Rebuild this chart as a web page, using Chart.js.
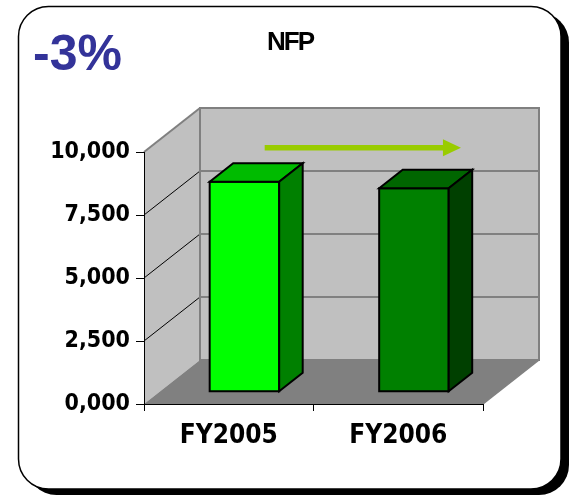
<!DOCTYPE html>
<html>
<head>
<meta charset="utf-8">
<script src="https://cdn.jsdelivr.net/npm/chart.js@4"></script>
<style>
html, body { margin: 0; padding: 0; background: #fff; }
</style>
</head>
<body>
<canvas id="chart" width="573" height="497"></canvas>
<script>
/* NFP 3D column chart */

var categories = ['FY2005', 'FY2006'];
var nfpValues = [8330, 8070];
var yTickValues = [0, 2500, 5000, 7500, 10000];
var yTickLabels = ['0,000', '2,500', '5,000', '7,500', '10,000'];
var chartTitle = 'NFP';
var changeLabel = '-3%';

// bar face colours (front / top / side)
var frontColors = ['#00ff00', '#008000'];
var topColors = ['#00bb00', '#006600'];
var sideColors = ['#008000', '#004000'];

var FONT = "'DejaVu Sans Condensed', 'DejaVu Sans', sans-serif";
var DEPTH_X = 56, DEPTH_Y = -44;     // full floor depth
var BAR_FRONT = 0.28, BAR_BACK = 0.70; // bar position inside the depth

function roundRect(ctx, x, y, w, h, r) {
    ctx.beginPath();
    ctx.moveTo(x + r, y);
    ctx.arcTo(x + w, y, x + w, y + h, r);
    ctx.arcTo(x + w, y + h, x, y + h, r);
    ctx.arcTo(x, y + h, x, y, r);
    ctx.arcTo(x, y, x + w, y, r);
    ctx.closePath();
}

function poly(ctx, pts) {
    ctx.beginPath();
    ctx.moveTo(pts[0][0], pts[0][1]);
    for (var i = 1; i < pts.length; i++) ctx.lineTo(pts[i][0], pts[i][1]);
    ctx.closePath();
}

var frame3d = {
    id: 'frame3d',
    beforeDraw: function(chart) {
        var ctx = chart.ctx;
        var a = chart.chartArea;
        var ys = chart.scales.y;
        var L = a.left, R = a.right, T = a.top, B = a.bottom;
        var dx = DEPTH_X, dy = DEPTH_Y;

        ctx.save();
        ctx.fillStyle = '#fff';
        ctx.fillRect(0, 0, chart.width, chart.height);

        // rounded frame with hard shadow
        roundRect(ctx, 26.5, 12.5, 542.5, 482.5, 30);
        ctx.fillStyle = '#000';
        ctx.fill();
        roundRect(ctx, 18.5, 6.5, 542.5, 482.5, 30);
        ctx.fillStyle = '#fff';
        ctx.fill();
        ctx.lineWidth = 1.5;
        ctx.strokeStyle = '#000';
        ctx.stroke();

        // walls and floor
        ctx.fillStyle = '#c0c0c0';
        poly(ctx, [[L, B], [L, T], [L + dx, T + dy], [L + dx, B + dy]]);
        ctx.fill();
        ctx.fillRect(L + dx, T + dy, R - L, B - T);
        ctx.fillStyle = '#808080';
        poly(ctx, [[L, B], [L + dx, B + dy], [R + dx, B + dy], [R, B]]);
        ctx.fill();

        // gridlines on back wall and side wall
        yTickValues.forEach(function(v) {
            if (v === 0) return;
            var y = ys.getPixelForValue(v);
            ctx.strokeStyle = '#808080';
            ctx.lineWidth = 2;
            ctx.beginPath();
            ctx.moveTo(L + dx, y + dy);
            ctx.lineTo(R + dx, y + dy);
            ctx.stroke();
            var top = v === yTickValues[yTickValues.length - 1];
            ctx.strokeStyle = top ? '#808080' : '#000';
            ctx.lineWidth = top ? 2 : 1;
            ctx.beginPath();
            ctx.moveTo(L, y);
            ctx.lineTo(L + dx, y + dy);
            ctx.stroke();
        });

        ctx.strokeStyle = '#808080';
        ctx.lineWidth = 2;
        ctx.strokeRect(L + dx, T + dy, R - L, B - T);
        ctx.lineWidth = 1.5;
        ctx.beginPath();
        ctx.moveTo(R, B);
        ctx.lineTo(R + dx, B + dy);
        ctx.stroke();
        ctx.restore();
    },
    afterDatasetsDraw: function(chart) {
        var ctx = chart.ctx;
        var meta = chart.getDatasetMeta(0);
        var f0x = BAR_FRONT * DEPTH_X, f0y = BAR_FRONT * DEPTH_Y;
        var bdx = (BAR_BACK - BAR_FRONT) * DEPTH_X, bdy = (BAR_BACK - BAR_FRONT) * DEPTH_Y;

        ctx.save();
        ctx.lineWidth = 2;
        ctx.strokeStyle = '#000';
        ctx.lineJoin = 'miter';
        meta.data.forEach(function(el, i) {
            var p = el.getProps(['x', 'y', 'base', 'width'], true);
            var x0 = p.x - p.width / 2 + f0x, x1 = p.x + p.width / 2 + f0x;
            var y0 = p.y + f0y, y1 = p.base + f0y;

            poly(ctx, [[x0, y0], [x1, y0], [x1, y1], [x0, y1]]);
            ctx.fillStyle = frontColors[i];
            ctx.fill(); ctx.stroke();

            poly(ctx, [[x0, y0], [x0 + bdx, y0 + bdy], [x1 + bdx, y0 + bdy], [x1, y0]]);
            ctx.fillStyle = topColors[i];
            ctx.fill(); ctx.stroke();

            poly(ctx, [[x1, y0], [x1 + bdx, y0 + bdy], [x1 + bdx, y1 + bdy], [x1, y1]]);
            ctx.fillStyle = sideColors[i];
            ctx.fill(); ctx.stroke();
        });
        ctx.restore();
    },
    afterDraw: function(chart) {
        var ctx = chart.ctx;
        var a = chart.chartArea;
        var w = a.right - a.left;

        // trend arrow on the back wall
        var ax0 = a.left + 0.356 * w, ax1 = a.left + 0.935 * w, ay = a.top - 4.3;
        ctx.save();
        ctx.strokeStyle = '#99cc00';
        ctx.fillStyle = '#99cc00';
        ctx.lineWidth = 5.5;
        ctx.beginPath();
        ctx.moveTo(ax0, ay);
        ctx.lineTo(ax1 - 16, ay);
        ctx.stroke();
        poly(ctx, [[ax1 - 18, ay - 8.5], [ax1, ay], [ax1 - 18, ay + 8.5]]);
        ctx.fill();

        // title and change label
        ctx.fillStyle = '#000';
        ctx.textBaseline = 'alphabetic';
        ctx.font = "bold 26px 'Liberation Sans', Arial, sans-serif";
        if ('letterSpacing' in ctx) ctx.letterSpacing = '-2px';
        ctx.fillText(chartTitle, 267, 50);
        if ('letterSpacing' in ctx) ctx.letterSpacing = '0px';
        ctx.fillStyle = '#333399';
        ctx.font = "bold 50px 'Liberation Sans', Arial, sans-serif";
        ctx.fillText(changeLabel, 33, 70);
        ctx.restore();
    }
};

new Chart(document.getElementById('chart'), {
    type: 'bar',
    data: {
        labels: categories,
        datasets: [{
            label: chartTitle,
            data: nfpValues,
            backgroundColor: 'rgba(0,0,0,0)',
            borderWidth: 0,
            barPercentage: 0.41,
            categoryPercentage: 1
        }]
    },
    options: {
        responsive: false,
        animation: false,
        layout: { padding: { left: 0, top: 152, right: 90, bottom: 0 } },
        plugins: {
            legend: { display: false },
            tooltip: { enabled: false },
            title: { display: false }
        },
        scales: {
            x: {
                grid: { offset: true, drawOnChartArea: false, tickLength: 7, color: '#000', lineWidth: 1 },
                border: { display: true, color: '#000', width: 1 },
                ticks: { color: '#000', padding: 10, font: { family: FONT, size: 26, weight: 'bold' } },
                afterFit: function(s) { s.height = 93; }
            },
            y: {
                min: 0,
                max: 10000,
                grid: { drawOnChartArea: false, tickLength: 8, color: '#000', lineWidth: 1 },
                border: { display: true, color: '#000', width: 1 },
                ticks: {
                    stepSize: 2500,
                    color: '#000',
                    padding: 6,
                    font: { family: FONT, size: 23, weight: 'bold' },
                    callback: function(v) {
                        var i = yTickValues.indexOf(v);
                        return i >= 0 ? yTickLabels[i] : '';
                    }
                },
                afterFit: function(s) { s.width = 144; }
            }
        }
    },
    plugins: [frame3d]
});
</script>
</body>
</html>
